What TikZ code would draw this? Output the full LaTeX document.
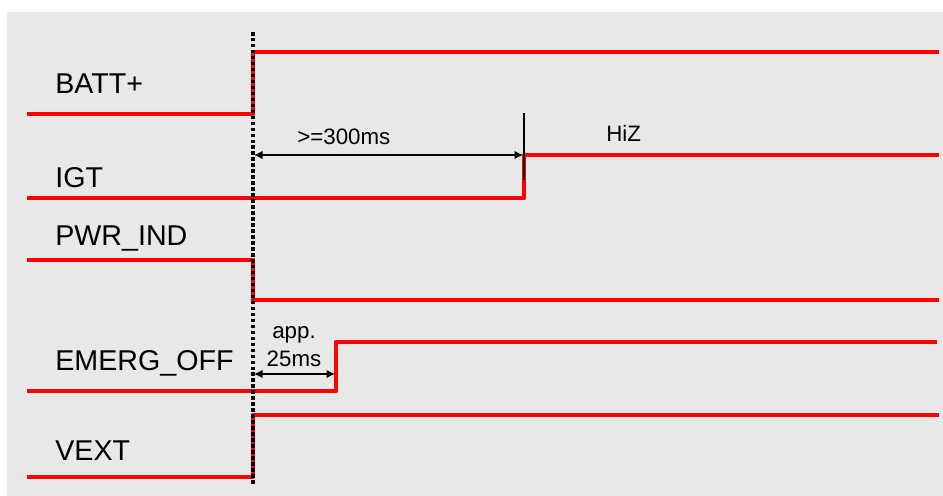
\documentclass[tikz,border=0pt]{standalone}
\usepackage{fontspec}
\setmainfont{Liberation Sans}
\usetikzlibrary{arrows.meta, positioning}
\definecolor{panelgray}{HTML}{E8E8E8}
\definecolor{sigred}{HTML}{FF0000}

\begin{document}
\begin{tikzpicture}[x=0.02cm, y=-0.02cm,
    signal/.style={sigred, line width=2.4pt, line join=round},
    signame/.style={anchor=base west, inner sep=0pt, font=\fontsize{16.3}{19}\selectfont},
    timing/.style={inner sep=0pt, font=\fontsize{12.7}{15}\selectfont},
    span/.style={black, line width=0.7pt, {Latex[length=1.7mm,width=1.7mm]}-{Latex[length=1.7mm,width=1.7mm]}}]
  % panel
  \useasboundingbox (0,0) rectangle (943,496);
  \fill[panelgray] (7,12) rectangle (943,496);
  % signal names
  \node[signame] (batt) at (55,94) {BATT+};
  \node[signame] (igt) at (55,188) {IGT};
  \node[signame] (pwr) at (55,246) {PWR\_IND};
  \node[signame] (emerg) at (55,371) {EMERG\_OFF};
  \node[signame] (vext) at (55,460) {VEXT};
  % waveforms
  \draw[signal] (27,114) -- (253,114) -- (253,52) -- (939,52);
  \draw[signal] (27,198) -- (524,198) -- (524,155) -- (939,155);
  \draw[signal] (27,260) -- (253,260) -- (253,300) -- (939,300);
  \draw[signal] (27,391) -- (336,391) -- (336,342) -- (937,342);
  \draw[signal] (27,477) -- (253,477) -- (253,415) -- (939,415);
  % switch-on instant
  \draw[black, line width=2.2pt, dash pattern=on 2pt off 1.4pt] (253,32) -- (253,484);
  \draw[black, line width=1.6pt] (524,113) -- (524,180);
  % timings
  \coordinate (igtL) at (254,155);
  \coordinate (igtR) at (523,155);
  \coordinate (offL) at (254,374);
  \coordinate (offR) at (335,374);
  \draw[span] (igtL) -- (igtR);
  \draw[span] (offL) -- (offR);
  \node[timing, anchor=base west] (tigt) at (297,145) {>=300ms};
  \node[timing, anchor=base west] (hiz) at (606,142) {HiZ};
  \node[timing, anchor=base] (tapp) at (294,338) {app.};
  \node[timing, anchor=base] (toff) at (294,367) {25ms};
\end{tikzpicture}
\end{document}
